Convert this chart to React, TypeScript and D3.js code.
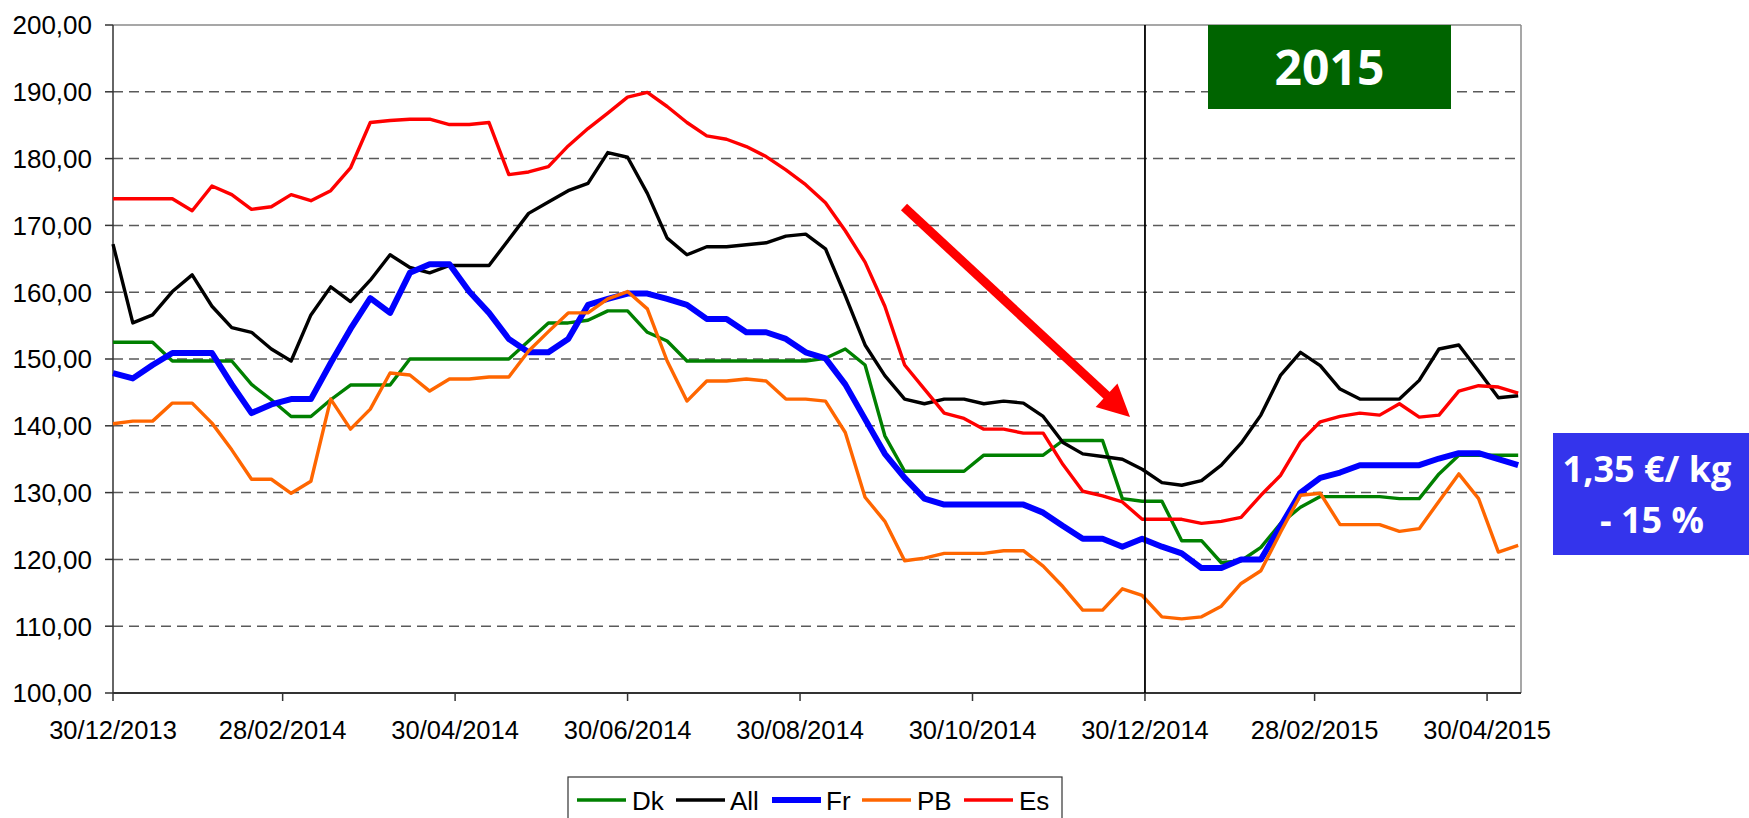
import React from "react";
import * as d3 from "d3";

const seriesNames = ["Dk", "All", "Fr", "PB", "Es"];
const seriesColors = ["#008000", "#000000", "#0000FF", "#FF6600", "#FF0000"];
const seriesWidths = [3.4, 3.4, 6, 3.4, 3.4];

const startDate = "30/12/2013";
const endDate = "12/05/2015";
const xTickLabels = ["30/12/2013", "28/02/2014", "30/04/2014", "30/06/2014", "30/08/2014", "30/10/2014", "30/12/2014", "28/02/2015", "30/04/2015"];
const yTicks = [100, 110, 120, 130, 140, 150, 160, 170, 180, 190, 200];
const markerDate = "30/12/2014";

const dk = [152.5, 152.5, 152.5, 149.7, 149.7, 149.7, 149.7, 146.2, 143.9, 141.4, 141.4, 143.9, 146.1, 146.1, 146.1, 150.0, 150.0, 150.0, 150.0, 150.0, 150.0, 152.7, 155.4, 155.4, 155.8, 157.2, 157.2, 154.0, 152.7, 149.7, 149.7, 149.7, 149.7, 149.7, 149.7, 149.7, 150.1, 151.5, 149.1, 138.5, 133.2, 133.2, 133.2, 133.2, 135.6, 135.6, 135.6, 135.6, 137.8, 137.8, 137.8, 129.1, 128.7, 128.7, 122.8, 122.8, 119.5, 119.8, 121.8, 125.4, 127.8, 129.4, 129.4, 129.4, 129.4, 129.1, 129.1, 132.8, 135.6, 135.6, 135.6, 135.6];
const all = [167.2, 155.4, 156.6, 160.1, 162.6, 157.9, 154.7, 154.0, 151.5, 149.7, 156.6, 160.8, 158.6, 161.8, 165.6, 163.7, 162.9, 164.0, 164.0, 164.0, 167.9, 171.8, 173.5, 175.2, 176.3, 180.9, 180.2, 174.8, 168.1, 165.6, 166.8, 166.8, 167.1, 167.4, 168.4, 168.7, 166.5, 159.5, 152.1, 147.5, 144.0, 143.3, 144.0, 144.0, 143.3, 143.7, 143.4, 141.4, 137.5, 135.8, 135.4, 135.0, 133.5, 131.5, 131.1, 131.8, 134.1, 137.4, 141.6, 147.6, 151.0, 149.0, 145.5, 144.0, 144.0, 144.0, 146.8, 151.5, 152.1, 148.2, 144.2, 144.5];
const fr = [147.9, 147.1, 149.1, 150.9, 150.9, 150.9, 146.2, 141.9, 143.2, 144.0, 144.0, 149.4, 154.5, 159.1, 156.9, 162.9, 164.2, 164.2, 160.1, 156.9, 153.0, 151.0, 151.0, 153.0, 158.1, 159.0, 159.8, 159.8, 159.0, 158.1, 156.0, 156.0, 154.0, 154.0, 153.0, 151.0, 150.1, 146.2, 141.0, 135.8, 132.2, 129.1, 128.2, 128.2, 128.2, 128.2, 128.2, 127.0, 125.0, 123.1, 123.1, 121.9, 123.1, 121.9, 120.9, 118.7, 118.7, 120.0, 120.0, 125.0, 130.0, 132.2, 133.0, 134.1, 134.1, 134.1, 134.1, 135.1, 135.9, 135.9, 135.0, 134.1];
const pb = [140.3, 140.7, 140.7, 143.4, 143.4, 140.4, 136.4, 132.0, 132.0, 129.9, 131.7, 144.0, 139.5, 142.5, 147.9, 147.6, 145.2, 147.0, 147.0, 147.3, 147.3, 151.2, 154.1, 156.9, 156.9, 159.0, 160.1, 157.5, 149.7, 143.7, 146.7, 146.7, 147.0, 146.7, 144.0, 144.0, 143.7, 139.0, 129.3, 125.7, 119.8, 120.2, 120.9, 120.9, 120.9, 121.3, 121.3, 119.0, 115.9, 112.4, 112.4, 115.6, 114.6, 111.4, 111.1, 111.4, 113.0, 116.4, 118.3, 124.1, 129.6, 129.9, 125.2, 125.2, 125.2, 124.2, 124.6, 128.7, 132.8, 129.1, 121.1, 122.1];
const es = [174.0, 174.0, 174.0, 174.0, 172.2, 175.9, 174.6, 172.4, 172.8, 174.6, 173.7, 175.2, 178.6, 185.4, 185.7, 185.9, 185.9, 185.1, 185.1, 185.4, 177.6, 178.0, 178.8, 181.9, 184.5, 186.8, 189.2, 189.9, 187.8, 185.4, 183.4, 182.9, 181.8, 180.3, 178.3, 176.1, 173.4, 169.2, 164.5, 157.9, 149.1, 145.5, 141.9, 141.1, 139.5, 139.5, 138.9, 138.9, 134.2, 130.2, 129.5, 128.6, 126.0, 126.0, 126.0, 125.4, 125.7, 126.3, 129.6, 132.6, 137.6, 140.6, 141.4, 141.9, 141.6, 143.3, 141.3, 141.6, 145.2, 146.0, 145.8, 144.9];

const seriesValues = [dk, all, fr, pb, es];

const yearLabel = "2015";
const priceLine1 = "1,35 €/ kg";
const priceLine2 = "- 15 %";

const parse = d3.timeParse("%d/%m/%Y");
const axisFont = "'Liberation Sans', Arial, sans-serif";
const boxFont = "'Open Sans', 'Noto Sans', sans-serif";

export default function App() {
  const W = 1749, H = 818;
  const left = 113, right = 1521, top = 25, bottom = 693;
  const start = parse(startDate) as Date;
  const x = d3.scaleTime().domain([start, parse(endDate) as Date]).range([left, right]);
  const y = d3.scaleLinear().domain([100, 200]).range([bottom, top]);
  const dates = d3.range(dk.length).map((i) => d3.timeDay.offset(start, 7 * i));
  const line = d3.line<number>().x((_, i) => x(dates[i])).y((d) => y(d));
  const fmt = (v: number) => d3.format(".2f")(v).replace(".", ",");
  const markerX = x(parse(markerDate) as Date);

  // arrow
  const ax0 = 904, ay0 = 207, ax1 = 1130, ay1 = 417;
  const dx = ax1 - ax0, dy = ay1 - ay0, len = Math.hypot(dx, dy);
  const ux = dx / len, uy = dy / len, px = -uy, py = ux;
  const headL = 32, headW = 16;
  const bx = ax1 - ux * headL, by = ay1 - uy * headL;

  const legendItems = [
    { lx: 577, tx: 632 },
    { lx: 676, tx: 730 },
    { lx: 772, tx: 826 },
    { lx: 862, tx: 917 },
    { lx: 964, tx: 1019 },
  ];

  return (
    <svg width={W} height={H} style={{ position: "absolute", left: 0, top: 0, background: "#fff" }}>
      {yTicks.filter((t) => t > 100 && t < 200).map((t) => (
        <line key={t} x1={left} x2={right} y1={y(t)} y2={y(t)} stroke="#5a5a5a" strokeWidth={1.5} strokeDasharray="10,6" />
      ))}
      <line x1={left} x2={right} y1={top} y2={top} stroke="#8a8a8a" strokeWidth={1.5} />
      <line x1={right} x2={right} y1={top} y2={bottom} stroke="#8a8a8a" strokeWidth={1.5} />
      <line x1={left} x2={left} y1={top} y2={bottom} stroke="#333" strokeWidth={1.5} />
      {yTicks.map((t) => (
        <g key={t}>
          <line x1={left - 8} x2={left} y1={y(t)} y2={y(t)} stroke="#333" strokeWidth={1.5} />
          <text x={92} y={y(t)} dy="0.36em" textAnchor="end" fontFamily={axisFont} fontSize={26} fill="#000">{fmt(t)}</text>
        </g>
      ))}
      <line x1={left} x2={right} y1={bottom} y2={bottom} stroke="#333" strokeWidth={2} />
      {xTickLabels.map((lab) => {
        const xx = x(parse(lab) as Date);
        return (
          <g key={lab}>
            <line x1={xx} x2={xx} y1={bottom} y2={bottom + 8} stroke="#333" strokeWidth={1.5} />
            <text x={xx} y={739} textAnchor="middle" fontFamily={axisFont} fontSize={25.5} fill="#000">{lab}</text>
          </g>
        );
      })}
      {seriesValues.map((vals, i) => (
        <path key={seriesNames[i]} d={line(vals) || ""} fill="none" stroke={seriesColors[i]} strokeWidth={seriesWidths[i]} strokeLinejoin="round" />
      ))}
      <line x1={markerX} x2={markerX} y1={top} y2={bottom} stroke="#000" strokeWidth={1.8} />
      <line x1={ax0} y1={ay0} x2={bx + ux * 2} y2={by + uy * 2} stroke="#FF0000" strokeWidth={9} />
      <polygon points={`${ax1},${ay1} ${bx + px * headW},${by + py * headW} ${bx - px * headW},${by - py * headW}`} fill="#FF0000" />
      <rect x={1208} y={top} width={243} height={84} fill="#006400" />
      <text x={1329.5} y={85} textAnchor="middle" fontFamily={boxFont} fontWeight={700} fontSize={48} fill="#fff">{yearLabel}</text>
      <rect x={1553} y={433} width={200} height={122} fill="#3434EC" />
      <text x={1647} y={482} textAnchor="middle" fontFamily={boxFont} fontWeight={700} fontSize={36} fill="#fff">{priceLine1}</text>
      <text x={1652} y={533} textAnchor="middle" fontFamily={boxFont} fontWeight={700} fontSize={36} fill="#fff">{priceLine2}</text>
      <rect x={568} y={777} width={494} height={60} fill="#fff" stroke="#333" strokeWidth={1.2} />
      {seriesNames.map((n, i) => (
        <g key={n}>
          <line x1={legendItems[i].lx} x2={legendItems[i].lx + 49} y1={800} y2={800} stroke={seriesColors[i]} strokeWidth={seriesWidths[i]} />
          <text x={legendItems[i].tx} y={810} fontFamily={axisFont} fontSize={26} fill="#000">{n}</text>
        </g>
      ))}
    </svg>
  );
}
